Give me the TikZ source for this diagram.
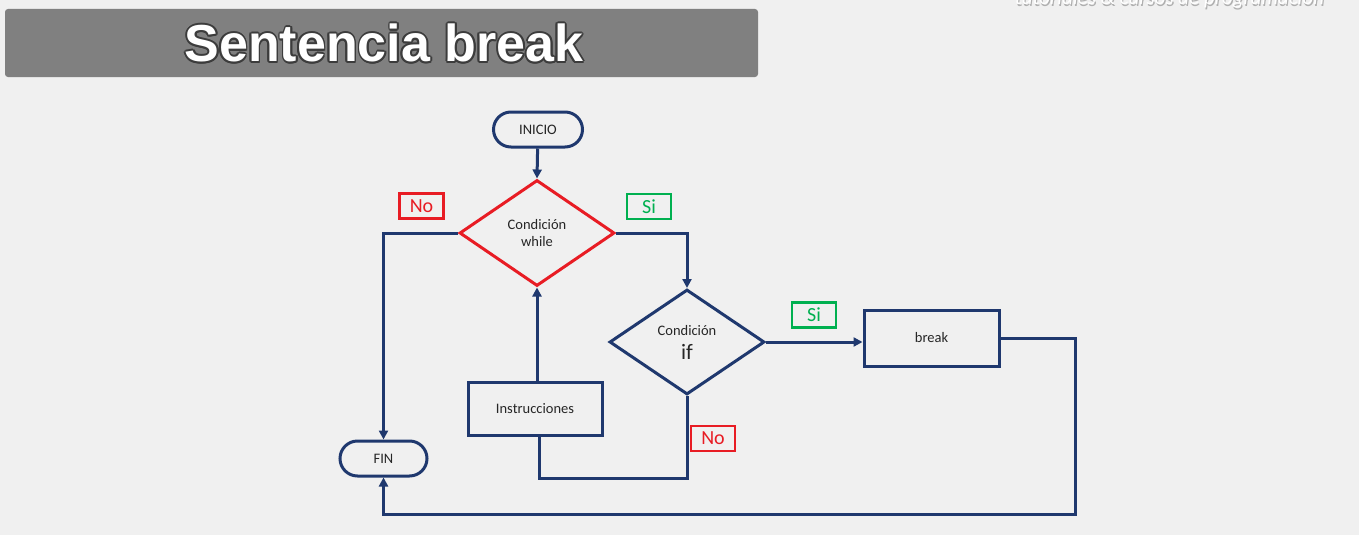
\documentclass[tikz,border=0pt]{standalone}
\usepackage{fontspec}
\setmainfont{Carlito}
\newfontfamily\titlefont{Liberation Sans}
\usetikzlibrary{arrows.meta,shapes.geometric}
\definecolor{navy}{RGB}{31,56,110}
\definecolor{fred}{RGB}{232,28,36}
\definecolor{fgreen}{RGB}{0,176,80}
\definecolor{bg}{RGB}{240,240,240}
\definecolor{txt}{RGB}{38,38,38}
\definecolor{titlegray}{RGB}{128,128,128}
\definecolor{outl}{RGB}{60,60,60}
\definecolor{wshadow}{RGB}{175,175,175}
\begin{document}
\begin{tikzpicture}[x=1pt,y=-1pt,
  conn/.style={draw=navy,line width=3pt},
  arr/.style={-{Triangle[length=9pt,width=9pt]}},
  lab/.style={font=\fontsize{14.5}{17}\selectfont,text=txt},
  term/.style={lab,draw=navy,line width=3pt,rounded corners=17.5pt,minimum height=35pt,inner sep=0pt},
  proc/.style={lab,draw=navy,line width=3pt,inner sep=0pt},
  dec/.style={lab,diamond,line width=3pt,inner sep=0pt,align=center},
  tag/.style={line width=2.6pt,minimum width=44pt,minimum height=25pt,inner sep=0pt,font=\fontsize{20}{21}\selectfont},
  ttl/.style={font=\titlefont\bfseries\fontsize{52}{56}\selectfont},
  wmk/.style={anchor=base,font=\itshape\fontsize{21}{22}\selectfont,inner sep=0pt}
]
\useasboundingbox (0,0) rectangle (1359,535);
\fill[bg] (0,0) rectangle (1359,535);

% watermark (clipped at the top edge, as in the reference)
\begin{scope}
\clip (0,0) rectangle (1359,535);
\node[wmk,text=wshadow] (wms) at (1170.5,6.5) {tutoriales \& cursos de programación};
\node[wmk,text=white] (wm) at (1169.5,5) {tutoriales \& cursos de programación};
\end{scope}

% title
\fill[titlegray,rounded corners=3pt] (5,9) rectangle (758,77);
\foreach \a in {0,30,...,330}
  \node[ttl,text=outl,inner sep=0pt,shift={(\a:1.7)}] (o\a) at (384,43) {Sentencia break};
\node[ttl,text=white,inner sep=0pt] (title) at (384,43) {Sentencia break};

% nodes
\node[term,minimum width=89pt] (inicio) at (538,129.5) {INICIO};
\node[dec,draw=fred,minimum width=155pt,minimum height=106pt] (w) at (537,233) {Condición\\while};
\node[dec,draw=navy,minimum width=155pt,minimum height=105pt] (if) at (687,342) {Condición\\[7pt]{\fontsize{22}{22}\selectfont if}};
\node[proc,minimum width=135pt,minimum height=56pt] (brk) at (931.5,338) {break};
\node[proc,minimum width=134pt,minimum height=53pt] (ins) at (535,408.5) {Instrucciones};
\node[term,minimum width=87pt] (fin) at (383.5,458.5) {FIN};

% labels
\node[tag,draw=fred,text=fred] (no1) at (421.5,206) {No};
\node[tag,draw=fgreen,text=fgreen] (si1) at (649,206.5) {Si};
\node[tag,draw=fgreen,text=fgreen] (si2) at (814,315) {Si};
\node[tag,draw=fred,text=fred] (no2) at (713,438.5) {No};

% coordinates
\coordinate (c1) at (1075,514);
\coordinate (c2) at (687,478);

% connectors
\draw[conn,arr] (inicio) -- (w.north);
\draw[conn,arr] (w.west) -| (fin.north);
\draw[conn,arr] (w.east) -| (if.north);
\draw[conn,arr] (if.east) -- (if.east -| brk.west);
\draw[conn,arr] (brk.east) -| (c1) -| (fin.south);
\draw[conn] (if.south) -- (c2) -| ([xshift=4pt]ins.south);
\draw[conn,arr] (ins.north -| w.south) -- (w.south);
\end{tikzpicture}
\end{document}
